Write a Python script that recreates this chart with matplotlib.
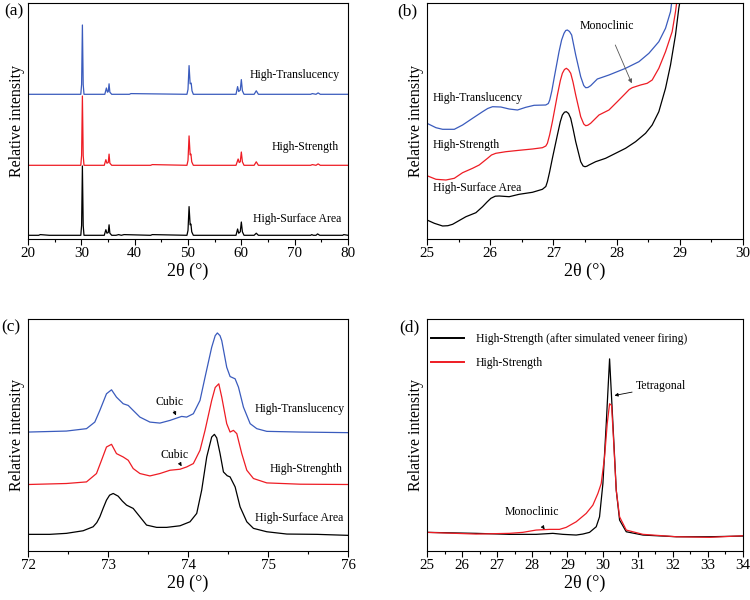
import matplotlib
matplotlib.use("Agg")
import matplotlib.pyplot as plt
from matplotlib.ticker import MultipleLocator

plt.rcParams['font.family'] = ['Liberation Serif', 'DejaVu Serif']

BLUE = '#3a5bbd'
RED = '#ee1c24'
BLACK = '#000000'

# ---------------- Panel (a): full patterns, 20-80 deg ----------------
a_black_x = [20, 22, 22.3, 24, 29.9, 30.05, 30.2, 30.35, 30.5, 34.3, 34.6, 34.8, 35.05, 35.2, 35.35, 35.7,
             36.5, 37.0, 37.5, 38.0, 43.0, 43.3, 49.8, 50.0, 50.2, 50.4, 50.55, 50.7, 51.0,
             59.0, 59.3, 59.5, 59.8, 60.0, 60.2, 60.5, 62.4, 62.8, 63.2, 73.0, 73.2, 73.5, 74.0, 74.3, 74.7,
             79.0, 79.2, 80]
a_black_y = [1, 1, 2, 1, 1, 15, 100, 15, 1, 1, 9, 4, 5, 16, 4, 1,
             1, 2, 1, 2, 1, 2, 1, 8, 42, 16, 17, 6, 1,
             1, 10, 4, 6, 20, 6, 1, 1, 4, 1, 1, 2, 1, 1, 3, 1,
             1, 2, 1]
a_red_x = [20, 29.9, 30.05, 30.2, 30.35, 30.5, 34.3, 34.6, 34.8, 35.05, 35.2, 35.35, 35.7,
           43.0, 43.3, 49.8, 50.0, 50.2, 50.4, 50.55, 50.7, 51.0,
           59.0, 59.4, 59.6, 59.8, 60.0, 60.2, 60.5, 62.4, 62.8, 63.2, 73.0, 73.3, 74.0, 74.4, 74.8, 80]
a_red_y = [1, 1, 15, 100, 15, 1, 1, 9, 4, 5, 17, 4, 1,
           1, 2, 1, 8, 43, 16, 17, 6, 1,
           1, 10, 5, 6, 20, 6, 1, 1, 6, 1, 1, 2, 1, 3, 1, 1]
a_blue_x = [20, 29.9, 30.05, 30.2, 30.35, 30.5, 34.4, 34.7, 34.9, 35.05, 35.2, 35.35, 35.7,
            39.0, 39.3, 49.8, 50.0, 50.2, 50.4, 50.6, 50.75, 51.0,
            59.0, 59.3, 59.5, 59.8, 60.0, 60.2, 60.5, 62.4, 62.8, 63.2, 73.0, 73.3, 74.0, 74.4, 74.8, 80]
a_blue_y = [1, 1, 15, 100, 15, 1, 1, 10, 4, 5, 16, 4, 1,
            1, 2, 1, 8, 42, 16, 17, 6, 1,
            1, 12, 5, 7, 22, 6, 1, 1, 6, 1, 1, 2, 1, 3, 1, 1]
a_labels = ['High-Translucency', 'High-Strength', 'High-Surface Area']

# ---------------- Panel (b): 25-30 deg zoom ----------------
b_black_x = [25.00, 25.116, 25.247, 25.330, 25.405, 25.616, 25.774, 25.879, 25.950, 26.011, 26.080, 26.142,
             26.300, 26.458, 26.668, 26.826, 26.880, 26.905, 26.940, 26.984, 27.063, 27.110, 27.142, 27.175,
             27.205, 27.240, 27.274, 27.310, 27.353, 27.432, 27.470, 27.500, 27.530, 27.563, 27.668,
             27.826, 27.984, 28.142, 28.300, 28.458, 28.563, 28.668, 28.774, 28.853, 28.932, 28.984, 29.01]
b_black_y = [19.0, 15.7, 13.0, 13.3, 14.7, 22.3, 26.3, 32.3, 37.0, 40.7, 42.8, 43.0,
             42.3, 44.7, 46.7, 49.7, 52.5, 57.3, 67.0, 80.7, 104, 117.5, 124, 126.8,
             127.3, 125.5, 120.7, 110.5, 97.3, 77.3, 73.0, 72.3, 72.8, 74, 77.3,
             80.7, 85.7, 90.7, 97.3, 105.7, 114, 127.3, 150.7, 174, 204, 230.7, 240]
b_red_x = [25.00, 25.142, 25.300, 25.432, 25.563, 25.721, 25.826, 25.958, 26.020, 26.089, 26.247, 26.458,
           26.668, 26.826, 26.880, 26.905, 26.940, 26.984, 27.063, 27.110, 27.142, 27.175, 27.205, 27.240,
           27.274, 27.310, 27.353, 27.432, 27.480, 27.511, 27.545, 27.589, 27.721,
           27.879, 28.011, 28.142, 28.200, 28.247, 28.379, 28.484, 28.563, 28.668, 28.774, 28.879, 28.932, 28.958]
b_red_y = [63.3, 59.7, 59, 60.7, 66.3, 70.7, 74, 80.7, 84.0, 85.7, 87.3, 88.7,
           90, 91.3, 93.0, 95.7, 104.0, 117.3, 144, 158.5, 165.7, 169.5, 170.7, 169.0,
           165.7, 157.0, 144, 122.3, 115.0, 113.3, 113.8, 115.7, 124,
           129, 137.3, 145.7, 149.5, 151.3, 154, 155.7, 159, 170.7, 187.3, 207.3, 227.3, 240]
b_blue_x = [25.00, 25.142, 25.247, 25.432, 25.563, 25.721, 25.879, 25.960, 26.037, 26.168, 26.300, 26.432,
            26.563, 26.695, 26.879, 26.920, 26.942, 26.975, 27.011, 27.089, 27.130, 27.168, 27.195, 27.221,
            27.255, 27.289, 27.353, 27.432, 27.480, 27.511, 27.545, 27.589,
            27.695, 27.879, 28.142, 28.353, 28.511, 28.668, 28.774, 28.853, 28.879]
b_blue_y = [115.7, 111.3, 109.7, 109.7, 114, 120.7, 127.3, 130.5, 132.3, 132, 130, 129,
            131.7, 133.7, 134, 135.5, 139, 148.0, 160.7, 187.3, 199.0, 205.7, 208.5, 209,
            207.5, 204, 184, 162.3, 153.5, 151.3, 151.5, 153.3,
            160, 164, 170.7, 177.3, 185.7, 197.3, 210.7, 227.3, 240]

# ---------------- Panel (c): 72-76 deg zoom ----------------
c_black_x = [72.000, 72.271, 72.480, 72.689, 72.814, 72.860, 72.898, 72.940, 72.981, 73.020, 73.065, 73.127,
             73.180, 73.232, 73.315, 73.399, 73.482, 73.608, 73.733, 73.900, 74.025, 74.109, 74.171,
             74.234, 74.296, 74.330, 74.359, 74.400, 74.443, 74.490, 74.526, 74.589, 74.651, 74.735,
             74.818, 74.985, 75.236, 75.612, 76.000]
c_black_y = [16.7, 16.7, 17.7, 20.3, 24.3, 28.5, 34.3, 43.0, 51, 56.0, 57.7, 55,
             50.0, 46, 42.7, 34.3, 26, 23.7, 23.7, 25.3, 29.3, 37.7, 61,
             94.3, 114.3, 117, 113.5, 98.0, 79.3, 75.5, 74.3, 64.3, 44.3, 29.3,
             22.7, 19.3, 17, 16.7, 15.7]
c_red_x = [72.000, 72.480, 72.731, 72.856, 72.919, 72.981, 73.044, 73.106, 73.190, 73.253, 73.315, 73.399,
           73.524, 73.649, 73.775, 73.900, 73.983, 74.067, 74.150, 74.213, 74.296, 74.340, 74.385, 74.422,
           74.484, 74.526, 74.568, 74.610, 74.672, 74.735, 74.818, 74.985, 75.403, 76.000]
c_red_y = [66.7, 67.7, 69.3, 77.7, 91, 104.3, 107, 97.7, 94.3, 91, 82.7, 77.7,
           75.3, 77.7, 81, 82, 84.3, 87.7, 101, 121, 151, 164, 167.7, 154.3,
           127.7, 119.3, 121, 117.7, 97.7, 81, 72.7, 68.3, 67, 66.7]
c_blue_x = [72.000, 72.480, 72.731, 72.835, 72.898, 72.981, 73.044, 73.106, 73.190, 73.253, 73.315, 73.399,
            73.524, 73.649, 73.775, 73.858, 73.921, 73.983, 74.067, 74.150, 74.213, 74.296, 74.340, 74.367,
            74.400, 74.422, 74.484, 74.526, 74.589, 74.631, 74.693, 74.777, 74.860, 74.985, 75.403, 76.000]
c_blue_y = [119.3, 120.3, 122.7, 129.3, 141, 157.7, 161.7, 154.3, 147.7, 146, 141, 134.3,
            129.3, 128.3, 131, 133.3, 135, 134.3, 137.7, 151, 174.3, 204.3, 216.0, 218.7,
            216.0, 211, 184.3, 175, 172.7, 164.3, 144.3, 127.7, 122.7, 120, 119.3, 118.7]
c_labels = ['High-Translucency', 'High-Strenghth', 'High-Surface Area']

# ---------------- Panel (d): 25-34 deg, before/after firing ----------------
d_fired_x = [25.00, 26.397, 27.348, 28.108, 28.584, 28.869, 29.249, 29.439, 29.629, 29.819, 29.914, 30.010,
             30.105, 30.200, 30.295, 30.390, 30.485, 30.675, 31.150, 32.101, 33.051, 34.00]
d_fired_y = [18.7, 17.7, 16.7, 16.7, 17.7, 16.7, 16, 17, 18.7, 24.3, 34.3, 67.7,
             127.7, 192.7, 127.7, 61, 31, 19.3, 16, 14.3, 14.3, 15]
d_hs_x = [25.00, 26.397, 27.348, 27.728, 28.108, 28.489, 28.774, 28.964, 29.249, 29.534, 29.724, 29.867,
          29.962, 30.057, 30.133, 30.200, 30.257, 30.314, 30.390, 30.485, 30.675, 31.150, 32.101, 33.051, 34.00]
d_hs_y = [18.7, 17, 17.7, 18.7, 21, 21.7, 21.7, 23.7, 29.3, 37.7, 46, 57.7,
          67.7, 94.3, 127.7, 147.7, 146, 111, 61, 34.3, 21, 16.7, 14.3, 13.7, 15.3]
d_labels = ['High-Strength (after simulated veneer firing)', 'High-Strength']

# ---------------- layout ----------------
W, H = 750, 600
fig = plt.figure(figsize=(7.5, 6), dpi=100)


def px_axes(l, t, r, b):
    return fig.add_axes([l / W, 1 - b / H, (r - l) / W, (b - t) / H])


axA = px_axes(28, 3, 348, 239)
axB = px_axes(427, 3, 743, 239)
axC = px_axes(28, 319, 348, 551)
axD = px_axes(427, 319, 743, 551)

LW = 0.9
TFS = 8.5


def style(ax, xlim, major, minor, letter, letter_x):
    ax.set_xlim(*xlim)
    ax.xaxis.set_major_locator(MultipleLocator(major))
    ax.xaxis.set_minor_locator(MultipleLocator(minor))
    ax.tick_params(axis='x', which='major', direction='out', length=4, width=0.8, labelsize=10.8, pad=2)
    ax.tick_params(axis='x', which='minor', direction='out', length=2.5, width=0.8)
    ax.tick_params(axis='y', left=False, labelleft=False)
    for s in ax.spines.values():
        s.set_linewidth(0.8)
    ax.set_xlabel('2θ (°)', fontsize=13, labelpad=2)
    ax.set_ylabel('Relative intensity', fontsize=11.5, labelpad=2)
    ax.text(letter_x, 1.0, letter, transform=ax.transAxes, fontsize=12.5, ha='right', va='top')


# (a)
scale_a = 0.7
axA.plot(a_black_x, [3 + v * scale_a for v in a_black_y], color=BLACK, lw=LW)
axA.plot(a_red_x, [73 + v * scale_a for v in a_red_y], color=RED, lw=LW)
axA.plot(a_blue_x, [144 + v * scale_a for v in a_blue_y], color=BLUE, lw=LW)
axA.set_ylim(0, 236)
style(axA, (20, 80), 10, 5, '(a)', -0.015)
axA.text(0.975, 0.695, a_labels[0], transform=axA.transAxes, ha='right', va='center', fontsize=TFS)
axA.text(0.972, 0.39, a_labels[1], transform=axA.transAxes, ha='right', va='center', fontsize=TFS)
axA.text(0.978, 0.085, a_labels[2], transform=axA.transAxes, ha='right', va='center', fontsize=TFS)

# (b)
axB.plot(b_black_x, b_black_y, color=BLACK, lw=LW)
axB.plot(b_red_x, b_red_y, color=RED, lw=LW)
axB.plot(b_blue_x, b_blue_y, color=BLUE, lw=LW)
axB.set_ylim(0, 236)
style(axB, (25, 30), 1, 0.5, '(b)', -0.03)
axB.text(25.09, 140.7, a_labels[0], ha='left', va='center', fontsize=TFS)
axB.text(25.09, 94, a_labels[1], ha='left', va='center', fontsize=TFS)
axB.text(25.09, 50.7, a_labels[2], ha='left', va='center', fontsize=TFS)
axB.annotate('Monoclinic', xy=(28.24, 155.7), xytext=(27.85, 213), ha='center', va='center', fontsize=TFS,
             arrowprops=dict(arrowstyle='-|>', color='#555555', lw=0.6, mutation_scale=6,
                             shrinkA=8, shrinkB=0))

# (c)
axC.plot(c_black_x, c_black_y, color=BLACK, lw=LW)
axC.plot(c_red_x, c_red_y, color=RED, lw=LW)
axC.plot(c_blue_x, c_blue_y, color=BLUE, lw=LW)
axC.set_ylim(0, 232.7)
style(axC, (72, 76), 1, 0.5, '(c)', -0.025)
axC.text(75.96, 142.7, c_labels[0], ha='right', va='center', fontsize=TFS)
axC.text(75.93, 82.7, c_labels[1], ha='right', va='center', fontsize=TFS)
axC.text(75.94, 32.7, c_labels[2], ha='right', va='center', fontsize=TFS)
axC.annotate('Cubic', xy=(73.85, 136), xytext=(73.775, 149.3), ha='center', va='center', fontsize=TFS,
             arrowprops=dict(arrowstyle='-|>', color='black', lw=0.6, mutation_scale=5,
                             shrinkA=5, shrinkB=0))
axC.annotate('Cubic', xy=(73.92, 85), xytext=(73.837, 96), ha='center', va='center', fontsize=TFS,
             arrowprops=dict(arrowstyle='-|>', color='black', lw=0.6, mutation_scale=5,
                             shrinkA=5, shrinkB=0))

# (d)
axD.plot(d_fired_x, d_fired_y, color=BLACK, lw=LW, label=d_labels[0])
axD.plot(d_hs_x, d_hs_y, color=RED, lw=LW, label=d_labels[1])
axD.set_ylim(0, 232.7)
style(axD, (25, 34), 1, 0.5, '(d)', -0.025)
leg = axD.legend(loc='upper left', bbox_to_anchor=(0.012, 0.94), frameon=False, fontsize=TFS,
                 handlelength=2.8, handletextpad=1.0, labelspacing=1.05, borderpad=0, borderaxespad=0)
for line in leg.get_lines():
    line.set_linewidth(1.4)
axD.annotate('Tetragonal', xy=(30.34, 156), xytext=(30.96, 165), ha='left', va='center', fontsize=TFS,
             arrowprops=dict(arrowstyle='-|>', color='black', lw=0.6, mutation_scale=5,
                             shrinkA=1, shrinkB=0))
axD.annotate('Monoclinic', xy=(28.35, 21.7), xytext=(27.99, 39.3), ha='center', va='center', fontsize=TFS,
             arrowprops=dict(arrowstyle='-|>', color='black', lw=0.6, mutation_scale=5,
                             shrinkA=6, shrinkB=0))

fig.savefig('out.png', dpi=100)
